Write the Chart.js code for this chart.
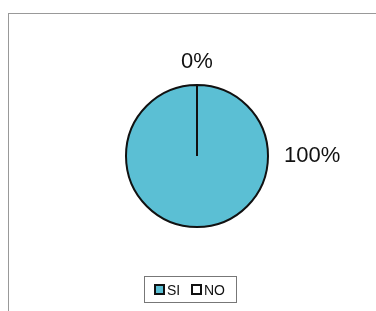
<!DOCTYPE html>
<html>
<head>
<meta charset="utf-8">
<script src="https://cdn.jsdelivr.net/npm/chart.js@4"></script>
<style>
  body { margin: 0; background: #fff; }
  #wrap { position: relative; width: 376px; height: 311px; }
  #graphique { position: absolute; left: 0; top: 0; }
  #frame { position: absolute; left: 8px; top: 13px; width: 380px; height: 300px;
           border-left: 1px solid #999; border-top: 1px solid #999; }
  #legende { position: absolute; left: 144px; top: 276px; width: 93px; height: 27px;
             border: 1px solid #777; box-sizing: border-box; font-family: "Liberation Sans", Arial, sans-serif;
             font-size: 14px; color: #111; display: flex; align-items: center; padding-left: 9px; }
  #legende span.box { display: inline-block; width: 7px; height: 7px; border: 2px solid #111; margin-right: 2px; }
  #legende span.txt { margin-right: 11px; }
</style>
</head>
<body>
<div id="wrap">
  <div id="frame"></div>
  <canvas id="graphique" width="376" height="311"></canvas>
  <div id="legende"></div>
</div>
<script>
let categories = ["SI", "NO"];
let valeurs = [100, 0];
let etiquettes = ["100%", "0%"];
let couleurs = ["#5bbfd4", "#ffffff"];

// angle ou on place chaque etiquette (en radians)
let anglesEtiquettes = [0, -Math.PI / 2];

let legende = document.getElementById("legende");
for (let i = 0; i < categories.length; i++) {
    legende.innerHTML += '<span class="box" style="background:' + couleurs[i] + '"></span><span class="txt">' + categories[i] + '</span>';
}

let pluginEtiquettes = {
    id: "etiquettes",
    afterDatasetsDraw(chart) {
        let ctx = chart.ctx;
        let arcs = chart.getDatasetMeta(0).data;
        ctx.save();
        ctx.font = "22px 'Liberation Sans', Arial, sans-serif";
        ctx.fillStyle = "#111";
        for (let i = 0; i < arcs.length; i++) {
            let arc = arcs[i];
            let a = anglesEtiquettes[i];
            let x, y;
            if (Math.abs(Math.cos(a)) > 0.5) {
                ctx.textAlign = "left";
                ctx.textBaseline = "middle";
                x = arc.x + Math.cos(a) * (arc.outerRadius + 16);
                y = arc.y + Math.sin(a) * (arc.outerRadius + 16);
            } else {
                ctx.textAlign = "center";
                ctx.textBaseline = "bottom";
                x = arc.x + Math.cos(a) * (arc.outerRadius + 12);
                y = arc.y + Math.sin(a) * (arc.outerRadius + 12);
            }
            ctx.fillText(etiquettes[i], x, y);
        }
        ctx.restore();
    }
};

let ctx = document.getElementById("graphique").getContext("2d");
let chart = new Chart(ctx, {
    type: "pie",
    data: {
        labels: categories,
        datasets: [{
            data: valeurs,
            backgroundColor: couleurs,
            borderColor: "#111",
            borderWidth: 2
        }]
    },
    options: {
        responsive: false,
        animation: false,
        layout: { padding: { left: 125, right: 107, top: 84, bottom: 83 } },
        plugins: {
            legend: { display: false },
            tooltip: { enabled: false }
        }
    },
    plugins: [pluginEtiquettes]
});
</script>
</body>
</html>
